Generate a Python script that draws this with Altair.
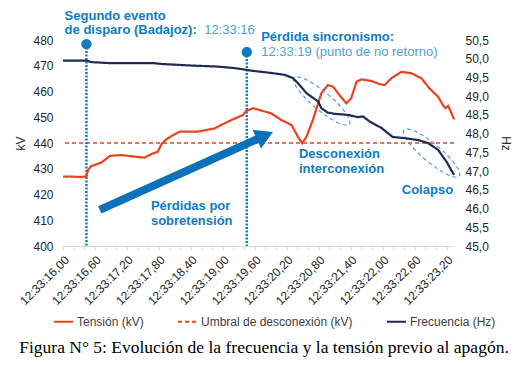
import altair as alt
import pandas as pd

# ---------------- data ----------------
# time in seconds after 12:33:00
t_tension = [16.00, 16.13, 16.31, 16.44, 16.47, 16.53, 16.72, 16.88, 17.10, 17.35, 17.53, 17.66,
             17.78, 17.85, 17.94, 18.07, 18.19, 18.35, 18.53, 18.85, 18.97, 19.16, 19.38, 19.44,
             19.57, 19.69, 19.91, 20.10, 20.29, 20.41, 20.49, 20.57, 20.69, 20.79, 20.85, 20.97,
             21.07, 21.19, 21.32, 21.41, 21.51, 21.60, 21.79, 21.95, 22.04, 22.16, 22.35, 22.54,
             22.73, 22.88, 23.04, 23.13, 23.18, 23.23, 23.28, 23.34]
v_tension = [426.9, 427.0, 426.8, 427.0, 429.5, 431.0, 432.4, 435.0, 435.3, 434.7, 434.3, 435.7,
             436.6, 439.6, 441.4, 443.1, 444.4, 444.4, 444.4, 445.7, 447.0, 448.9, 450.9, 452.5,
             453.5, 452.8, 451.5, 448.9, 447.0, 442.4, 439.9, 442.4, 448.9, 455.4, 459.3, 462.5,
             461.9, 458.6, 455.4, 457.4, 463.8, 464.7, 464.1, 462.8, 462.5, 465.1, 467.6, 467.1,
             465.1, 461.2, 458.0, 454.8, 453.5, 454.4, 452.2, 449.2]

t_freq = [16.00, 16.44, 16.53, 16.91, 17.72, 17.85, 18.38, 18.91, 19.22, 19.41, 19.54, 19.91,
          20.16, 20.32, 20.44, 20.57, 20.66, 20.79, 20.85, 20.97, 21.10, 21.35, 21.54, 21.63,
          21.76, 21.98, 22.19, 22.41, 22.66, 22.85, 23.04, 23.20, 23.34]
v_freq = [49.95, 49.95, 49.91, 49.88, 49.88, 49.86, 49.82, 49.79, 49.75, 49.71, 49.68, 49.62,
          49.57, 49.48, 49.30, 49.08, 48.99, 48.86, 48.68, 48.56, 48.53, 48.50, 48.44, 48.46,
          48.32, 48.15, 47.91, 47.88, 47.83, 47.75, 47.57, 47.25, 46.90]

threshold_kv = [440]

series_names = ["Tensión (kV)", "Umbral de desconexión (kV)", "Frecuencia (Hz)"]
series_colors = ["#E8431E", "#E8431E", "#1F2A55"]
series_dash = [[1, 0], [4, 3], [1, 0]]

event_t = [16.44, 19.45]
event_top_kv = [478.4, 475.3]

bold_labels = ["Segundo evento", "de disparo (Badajoz):", "Pérdida sincronismo:", "Desconexión",
               "interconexión", "Colapso", "Pérdidas por", "sobretensión"]
bold_t = [16.03, 16.03, 19.72, 20.43, 20.43, 22.36, 17.65, 17.65]
bold_kv = [489.5, 484.0, 481.2, 435.7, 429.9, 421.7, 415.5, 409.7]

normal_labels = ["12:33:16", "12:33:19 (punto de no retorno)"]
normal_t = [18.65, 19.72]
normal_kv = [484.0, 475.3]

arrow_t = [16.69, 19.73]
arrow_kv = [414.0, 442.3]
arrow_head_t = [19.79]
arrow_head_kv = [442.9]

ellipse_t = [20.857, 22.92]
ellipse_kv = [456.3, 436.1]

x_tick_values = [round(16.0 + 0.2 * i, 1) for i in range(37)]
kv_tick_values = [400, 410, 420, 430, 440, 450, 460, 470, 480]
hz_tick_values = [45.0, 45.5, 46.0, 46.5, 47.0, 47.5, 48.0, 48.5, 49.0, 49.5, 50.0, 50.5]

caption = ["Figura N° 5: Evolución de la frecuencia y la tensión previo al apagón."]

# ---------------- tables ----------------
df_tension = pd.DataFrame({"t": t_tension, "kv": v_tension, "serie": series_names[0]})
df_freq = pd.DataFrame({"t": t_freq, "hz": v_freq, "serie": series_names[2]})
df_thr = pd.DataFrame({"kv": threshold_kv, "serie": series_names[1]})
df_events = pd.DataFrame({"t": event_t, "top": event_top_kv})
df_bold = pd.DataFrame({"t": bold_t, "kv": bold_kv, "label": bold_labels})
df_normal = pd.DataFrame({"t": normal_t, "kv": normal_kv, "label": normal_labels})
df_arrow = pd.DataFrame({"t": [arrow_t[0]], "t2": [arrow_t[1]], "kv": [arrow_kv[0]], "kv2": [arrow_kv[1]]})
df_head = pd.DataFrame({"t": arrow_head_t, "kv": arrow_head_kv})
df_ell = pd.DataFrame({"t": ellipse_t, "kv": ellipse_kv})
df_caption = pd.DataFrame({"c": caption})

FONT = "Liberation Sans"
BLUE = "#0F7BC0"
LIGHT_BLUE = "#4C9FD8"

x_scale = alt.Scale(domain=[16.0, 23.34], nice=False, zero=False)
kv_scale = alt.Scale(domain=[400, 480], nice=False, zero=False)
hz_scale = alt.Scale(domain=[45, 50.5], nice=False, zero=False)

x_axis = alt.Axis(
    values=x_tick_values,
    labelExpr="round((datum.value - 16) * 10) % 6 == 0 ? '12:33:' + replace(format(datum.value, '.2f'), '.', ',') : ''",
    labelAngle=-45, labelFont=FONT, labelFontSize=12, labelColor="#262626",
    domainColor="#D9D9D9", tickColor="#D9D9D9", tickSize=4, labelPadding=4,
    grid=False, labelOverlap=False, labelBound=False, labelFlush=False,
)
kv_axis = alt.Axis(
    values=kv_tick_values, labelFont=FONT, labelFontSize=12, labelColor="#262626",
    domain=False, ticks=False, grid=False, labelPadding=10,
    title="kV", titleFont=FONT, titleFontSize=12, titleFontWeight="normal", titleColor="#262626",
    titleAngle=270, titleX=-43, titleY=103, titleAlign="center", titleBaseline="middle",
)
hz_axis = alt.Axis(
    orient="right", values=hz_tick_values,
    labelExpr="replace(format(datum.value, '.1f'), '.', ',')",
    labelFont=FONT, labelFontSize=12, labelColor="#262626",
    domain=False, ticks=False, grid=False, labelPadding=11,
    title="Hz", titleFont=FONT, titleFontSize=12, titleFontWeight="normal", titleColor="#262626",
    titleAngle=90, titleX=51, titleY=103, titleAlign="center", titleBaseline="middle",
)

legend = alt.Legend(
    orient="none", legendX=-10, legendY=271, direction="horizontal", columns=3,
    symbolType="stroke", symbolSize=361, symbolStrokeWidth=2,
    labelFont=FONT, labelFontSize=12, labelColor="#404040", labelOffset=3,
    columnPadding=30, padding=0, title=None,
)
color_enc = alt.Color("serie:N", scale=alt.Scale(domain=series_names, range=series_colors), legend=legend)
dash_enc = alt.StrokeDash("serie:N", scale=alt.Scale(domain=series_names, range=series_dash), legend=legend)

X = alt.X("t:Q", scale=x_scale, axis=x_axis, title=None)
Ykv = alt.Y("kv:Q", scale=kv_scale, axis=kv_axis)

tension = alt.Chart(df_tension).mark_line(strokeWidth=2.2).encode(
    x=X, y=Ykv, color=color_enc, strokeDash=dash_enc)

thr = alt.Chart(df_thr).mark_rule(strokeWidth=1.3).encode(
    y=Ykv, color=color_enc, strokeDash=dash_enc)

vlines = alt.Chart(df_events).mark_rule(color=BLUE, strokeWidth=2.5, strokeDash=[2, 1.5]).encode(
    x=X, y=alt.Y("top:Q", scale=kv_scale, axis=kv_axis), y2=alt.datum(400))

dots = alt.Chart(df_events).mark_circle(color=BLUE, size=110, opacity=1).encode(
    x=X, y=alt.Y("top:Q", scale=kv_scale, axis=kv_axis))

arrow = alt.Chart(df_arrow).mark_rule(color="#0B72B9", strokeWidth=8, strokeCap="butt").encode(
    x=X, x2="t2:Q", y=Ykv, y2="kv2:Q")

head = alt.Chart(df_head).mark_point(
    shape="triangle-right", size=420, filled=True, color="#0B72B9", opacity=1, angle=335.7
).encode(x=X, y=Ykv)

ellipse_path = "M -1 0 A 1 0.25 0 1 0 1 0 A 1 0.25 0 1 0 -1 0 Z"
ellipses = alt.Chart(df_ell).mark_point(
    shape=ellipse_path, size=5200, filled=False, color="#5B9BD5", strokeWidth=1.2,
    strokeDash=[4, 3], opacity=1, angle=40
).encode(x=X, y=Ykv)

bold_text = alt.Chart(df_bold).mark_text(
    align="left", baseline="middle", font=FONT, fontSize=13, fontWeight="bold", color=BLUE
).encode(x=X, y=Ykv, text="label:N")

normal_text = alt.Chart(df_normal).mark_text(
    align="left", baseline="middle", font=FONT, fontSize=13, color=LIGHT_BLUE
).encode(x=X, y=Ykv, text="label:N")

cap = alt.Chart(df_caption).mark_text(
    align="center", baseline="alphabetic", font="Liberation Serif", fontSize=17.5, color="#000000"
).encode(x=alt.value(201), y=alt.value(313), text="c:N")

left = alt.layer(thr, vlines, dots, tension, arrow, head, ellipses, bold_text, normal_text, cap)

freq = alt.Chart(df_freq).mark_line(strokeWidth=2.2).encode(
    x=X, y=alt.Y("hz:Q", scale=hz_scale, axis=hz_axis), color=color_enc, strokeDash=dash_enc)

chart = alt.layer(left, freq).resolve_scale(y="independent").properties(
    width=391, height=206,
    autosize=alt.AutoSizeParams(type="none"),
    padding={"left": 55, "top": 32, "right": 64, "bottom": 112},
    background="white",
).configure_view(stroke=None)

chart.save("out.html", embed_options={"renderer": "svg", "actions": False})
